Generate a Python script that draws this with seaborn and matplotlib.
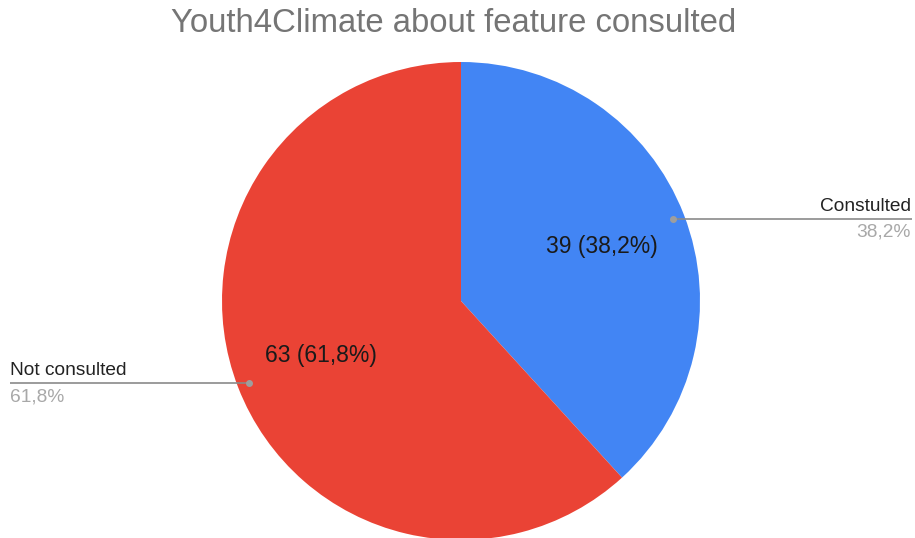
import numpy as np
import matplotlib
matplotlib.use("Agg")
import matplotlib.pyplot as plt
import seaborn as sns

sns.set_theme(style="white")
plt.rcParams['font.family'] = ['Liberation Sans', 'DejaVu Sans']

title = "Youth4Climate about feature consulted"
categories = ["Constulted", "Not consulted"]
values = [39, 63]
pct_labels = ["38,2%", "61,8%"]
colors = ["#4285F4", "#EA4335"]

W, H = 915, 538
fig = plt.figure(figsize=(W / 100, H / 100), dpi=100)
ax = fig.add_axes([0, 0, 1, 1])

cx, cy, r = 461, H - 301, 239
total = sum(values)

def fmt(p):
    n = int(round(p * total / 100))
    return f"{n} ({p:.1f}%)".replace(".", ",")

wedges, texts, autotexts = ax.pie(values, colors=colors, startangle=90, counterclock=False,
                                  center=(cx, cy), radius=r, autopct=fmt, pctdistance=0.63,
                                  wedgeprops=dict(linewidth=0), frame=True)
for t in autotexts:
    t.set_fontsize(16.5)
    t.set_color("#1a1a1a")
ax.set_xlim(0, W)
ax.set_ylim(0, H)
ax.set_aspect("equal")
ax.axis("off")

# leader lines and outside labels
for i, w in enumerate(wedges):
    mid = np.deg2rad((w.theta1 + w.theta2) / 2)
    px = cx + 0.95 * r * np.cos(mid)
    py = cy + 0.95 * r * np.sin(mid)
    if np.cos(mid) > 0:
        x_end, ha, xt = 912, "right", 911
    else:
        x_end, ha, xt = 10, "left", 10
    ax.plot([px, x_end], [py, py], color="#8a8a8a", lw=1.2, solid_capstyle="butt")
    ax.plot([px], [py], marker="o", ms=4, color="#9e9e9e")
    ax.text(xt, py + 4, categories[i], ha=ha, va="bottom", fontsize=13.8, color="#222222")
    ax.text(xt, py - 5, pct_labels[i], ha=ha, va="top", fontsize=13.8, color="#a8a8a8")

fig.text(454 / W, 1 - 24 / H, title, ha="center", va="center", fontsize=23.7, color="#757575")

fig.savefig("out.png", dpi=100, facecolor="white")
